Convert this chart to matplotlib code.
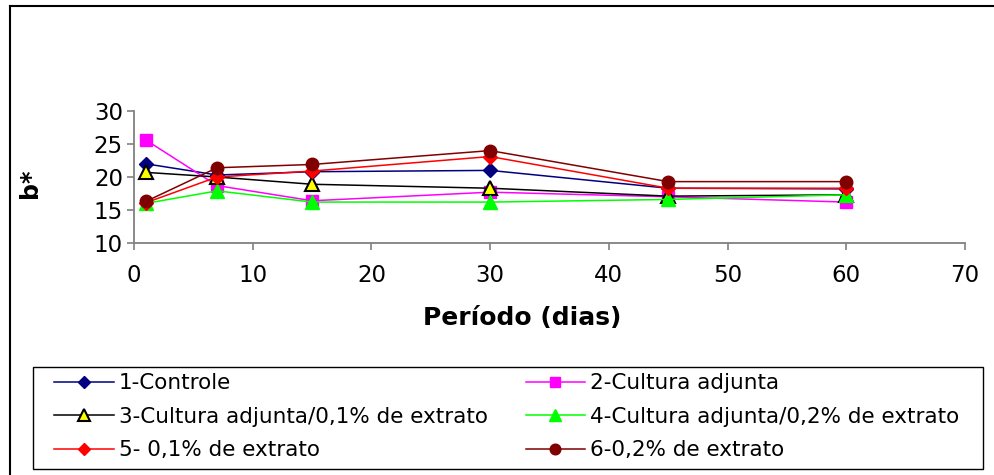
import matplotlib
matplotlib.use("Agg")
import matplotlib.pyplot as plt
from matplotlib.lines import Line2D
from matplotlib.patches import Rectangle

plt.rcParams['font.family'] = ['DejaVu Sans']

days = [1, 7, 15, 30, 45, 60]
labels = ["1-Controle", "2-Cultura adjunta",
          "3-Cultura adjunta/0,1% de extrato", "4-Cultura adjunta/0,2% de extrato",
          "5- 0,1% de extrato", "6-0,2% de extrato"]
s1 = [22.0, 20.3, 20.8, 21.0, 18.3, 18.2]
s2 = [25.6, 18.7, 16.4, 17.7, 17.0, 16.2]
s3 = [20.7, 20.0, 18.9, 18.3, 17.1, 17.3]
s4 = [16.0, 17.9, 16.2, 16.2, 16.6, 17.3]
s5 = [16.1, 20.0, 20.9, 23.1, 18.3, 18.3]
s6 = [16.3, 21.4, 21.9, 24.0, 19.3, 19.3]
series = [s1, s2, s3, s4, s5, s6]
xticks = [0, 10, 20, 30, 40, 50, 60, 70]
yticks = [10, 15, 20, 25, 30]

styles = [
    dict(color="#000080", marker="D", mfc="#000080", mec="#000080", ms=7),
    dict(color="#FF00FF", marker="s", mfc="#FF00FF", mec="#FF00FF", ms=8),
    dict(color="#000000", marker="^", mfc="#FFFF00", mec="#000000", ms=10, mew=1.5),
    dict(color="#00FF00", marker="^", mfc="#00FF00", mec="#00FF00", ms=10),
    dict(color="#FF0000", marker="D", mfc="#FF0000", mec="#FF0000", ms=7),
    dict(color="#800000", marker="o", mfc="#800000", mec="#800000", ms=9),
]

W, H = 994, 475
fig = plt.figure(figsize=(W / 100, H / 100), dpi=100)

# outer frame lines (left and top only)
fig.add_artist(Line2D([10 / W, 10 / W], [0, 1 - 6 / H], transform=fig.transFigure,
                      color="#000000", lw=1.5))
fig.add_artist(Line2D([10 / W, 1.01], [1 - 6 / H, 1 - 6 / H], transform=fig.transFigure,
                      color="#000000", lw=1.5))

ax = fig.add_axes([134 / W, 1 - 243 / H, (965 - 134) / W, (243 - 111) / H])
handles = []
for s, st, lab in zip(series, styles, labels):
    h, = ax.plot(days, s, lw=1.1, label=lab, **st)
    handles.append(h)

ax.set_xlim(0, 70)
ax.set_ylim(10, 30)
ax.set_xticks(xticks)
ax.set_yticks(yticks)
for sp in ["top", "right"]:
    ax.spines[sp].set_visible(False)
for sp in ["left", "bottom"]:
    ax.spines[sp].set_color("#808080")
    ax.spines[sp].set_linewidth(1.3)
ax.tick_params(axis="both", direction="out", length=5, color="#808080", width=1.2,
               labelsize=16.5)
ax.tick_params(axis="x", pad=10)
ax.tick_params(axis="y", pad=3)
ax.set_xlabel("Período (dias)", fontsize=18, fontweight="bold")
ax.xaxis.set_label_coords((522 - 134) / 831, (243 - 318) / 132)
ax.xaxis.label.set_va("center")
ax.set_ylabel("b*", fontsize=17, fontweight="bold")
ax.yaxis.set_label_coords((30 - 134) / 831, (243 - 183) / 132)
ax.yaxis.label.set_va("center")

# legend frame
fig.add_artist(Rectangle((33 / W, 1 - 469 / H), (983 - 33) / W, (469 - 367) / H,
                         transform=fig.transFigure, fill=False,
                         edgecolor="#000000", lw=1.0))
order = [0, 2, 4, 1, 3, 5]
leg = fig.legend([handles[i] for i in order], [labels[i] for i in order],
                 loc="upper left", bbox_to_anchor=(48 / W, 1 - 367 / H),
                 ncol=2, borderaxespad=0, fontsize=15.5,
                 frameon=False, handlelength=2.75, handletextpad=0.25,
                 labelspacing=0.62, borderpad=0.3, columnspacing=1.75)
for lh in leg.legend_handles:
    lh.set_markersize(lh.get_markersize() * 0.85)

fig.savefig("out.png", dpi=100)
